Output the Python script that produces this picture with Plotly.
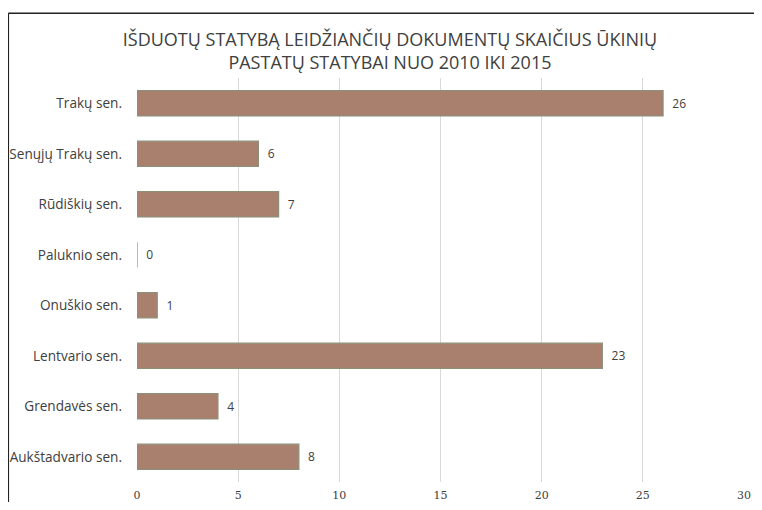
import plotly.graph_objects as go

categories = ["Trakų sen.", "Senųjų Trakų sen.", "Rūdiškių sen.", "Paluknio sen.",
              "Onuškio sen.", "Lentvario sen.", "Grendavės sen.", "Aukštadvario sen."]
values = [26, 6, 7, 0, 1, 23, 4, 8]
tick_vals = [0, 5, 10, 15, 20, 25, 30]
title_text = "IŠDUOTŲ STATYBĄ LEIDŽIANČIŲ DOKUMENTŲ SKAIČIUS ŪKINIŲ<br>PASTATŲ STATYBAI NUO 2010 IKI 2015"

fig = go.Figure()
fig.add_trace(go.Bar(
    x=values, y=categories, orientation="h",
    marker=dict(color="#a97f6d", line=dict(color="#8e8f78", width=1.2)),
    width=0.5,
    text=["  " + str(v) for v in values], textposition="outside",
    textfont=dict(family="Open Sans", size=12, color="#404040"),
    cliponaxis=False,
))

fig.update_layout(
    width=746, height=494,
    margin=dict(l=129, r=10, t=70, b=20),
    paper_bgcolor="white", plot_bgcolor="white",
    title=dict(text=title_text, x=0.512, xanchor="center", y=0.924, yanchor="middle",
               font=dict(family="Open Sans", size=18, color="#404040")),
    showlegend=False,
    font=dict(family="Open Sans", color="#404040"),
    xaxis=dict(range=[0, 30], tickvals=tick_vals, showgrid=True, gridcolor="#d9d9d9",
               gridwidth=1, zeroline=False, showline=False, ticks="", automargin=False,
               tickfont=dict(family="DejaVu Serif", size=11, color="#404040"),
               ticklabelstandoff=5),
    yaxis=dict(categoryorder="array", categoryarray=categories[::-1],
               showgrid=False, zeroline=False, showline=False, ticks="", automargin=False,
               tickfont=dict(family="Open Sans", size=13.6, color="#404040"),
               ticklabelstandoff=14),
    shapes=[
        dict(type="line", xref="paper", yref="paper", x0=-0.212, x1=1.03, y0=1.16, y1=1.16,
             line=dict(color="#222", width=1.5)),
        dict(type="line", xref="paper", yref="paper", x0=-0.212, x1=-0.212, y0=1.16, y1=-0.1,
             line=dict(color="#222", width=1.5)),
    ],
)

fig.write_html("out.html")
